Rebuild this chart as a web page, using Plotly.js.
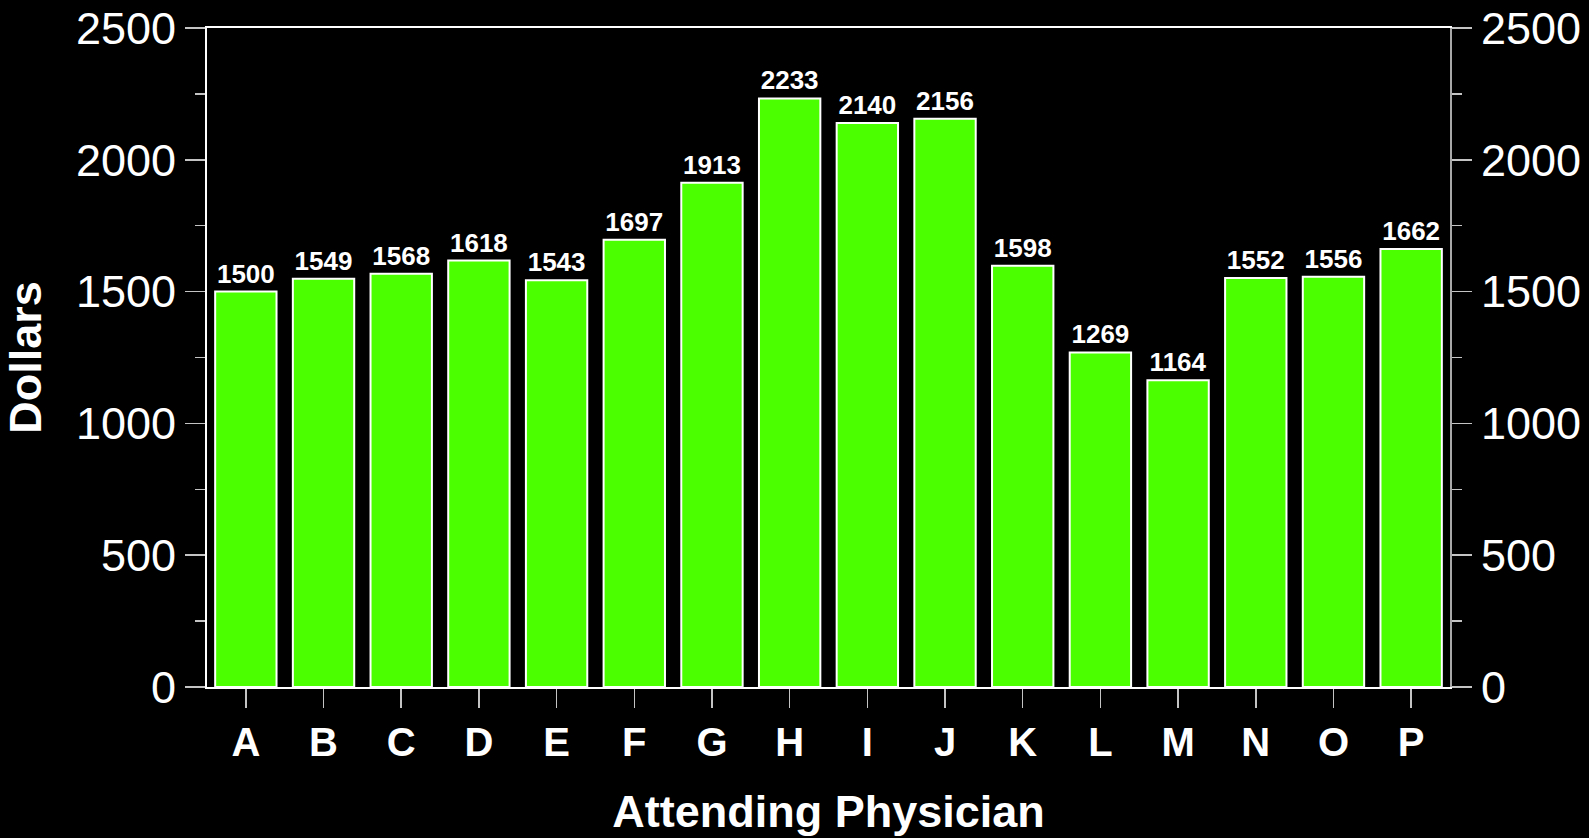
<!DOCTYPE html>
<html>
<head>
<meta charset="utf-8">
<script src="https://cdn.plot.ly/plotly-3.0.1.min.js"></script>
<style>
  html, body { margin: 0; padding: 0; background: #000; }
  #chart { width: 1589px; height: 838px; }
</style>
</head>
<body>
<div id="chart"></div>
<script>
// Average charges per attending physician
const physicians = ['A', 'B', 'C', 'D', 'E', 'F', 'G', 'H', 'I', 'J', 'K', 'L', 'M', 'N', 'O', 'P'];
const dollars = [1500, 1549, 1568, 1618, 1543, 1697, 1913, 2233, 2140, 2156, 1598, 1269, 1164, 1552, 1556, 1662];
const yTickValues = [0, 500, 1000, 1500, 2000, 2500];

const FONT = '"Liberation Sans", Arial, Helvetica, sans-serif';
const TICK_GREY = '#c4c4c4';

const bars = {
  type: 'bar',
  x: physicians,
  y: dollars,
  text: dollars.map(String),
  textposition: 'outside',
  constraintext: 'none',
  cliponaxis: false,
  textfont: { family: FONT, size: 26, color: '#ffffff', weight: 'bold' },
  marker: { color: '#4cff00', line: { color: '#ffffff', width: 2 } },
  hoverinfo: 'x+y'
};

// Invisible companion trace so the right-hand value axis is rendered
const rightAxisCarrier = {
  type: 'scatter',
  mode: 'markers',
  x: physicians,
  y: dollars,
  yaxis: 'y2',
  marker: { opacity: 0 },
  hoverinfo: 'skip',
  showlegend: false
};

const yAxisCommon = {
  range: [0, 2500],
  tickmode: 'array',
  tickvals: yTickValues,
  ticktext: yTickValues.map(String),
  ticks: 'outside',
  ticklen: 20,
  tickwidth: 1.5,
  tickcolor: TICK_GREY,
  minor: { ticks: 'outside', dtick: 250, ticklen: 10, tickwidth: 1.5, tickcolor: TICK_GREY, showgrid: false },
  showgrid: false,
  zeroline: false,
  showline: true,
  linewidth: 2,
  tickfont: { family: FONT, size: 45, color: '#ffffff' },
  fixedrange: true
};

const layout = {
  width: 1589,
  height: 838,
  paper_bgcolor: '#000000',
  plot_bgcolor: '#000000',
  margin: { l: 207, r: 139, t: 28, b: 151 },
  showlegend: false,
  bargap: 0.21,
  font: { family: FONT, color: '#ffffff' },
  xaxis: {
    range: [-0.5, 15.5],
    ticks: 'outside',
    ticklen: 19,
    tickwidth: 1.5,
    tickcolor: TICK_GREY,
    showline: true,
    linecolor: '#ffffff',
    linewidth: 2,
    mirror: true,
    showgrid: false,
    tickfont: { family: FONT, size: 40, color: '#ffffff', weight: 'bold' },
    title: { text: 'Attending Physician', standoff: 32, font: { family: FONT, size: 45, color: '#ffffff', weight: 'bold' } },
    fixedrange: true
  },
  yaxis: Object.assign({}, yAxisCommon, {
    linecolor: '#ffffff',
    title: { text: 'Dollars', standoff: 20, font: { family: FONT, size: 45, color: '#ffffff', weight: 'bold' } }
  }),
  yaxis2: Object.assign({}, yAxisCommon, {
    overlaying: 'y',
    side: 'right',
    linecolor: '#a8a8a8'
  })
};

Plotly.newPlot('chart', [bars, rightAxisCarrier], layout, { displayModeBar: false, staticPlot: true });
</script>
</body>
</html>
